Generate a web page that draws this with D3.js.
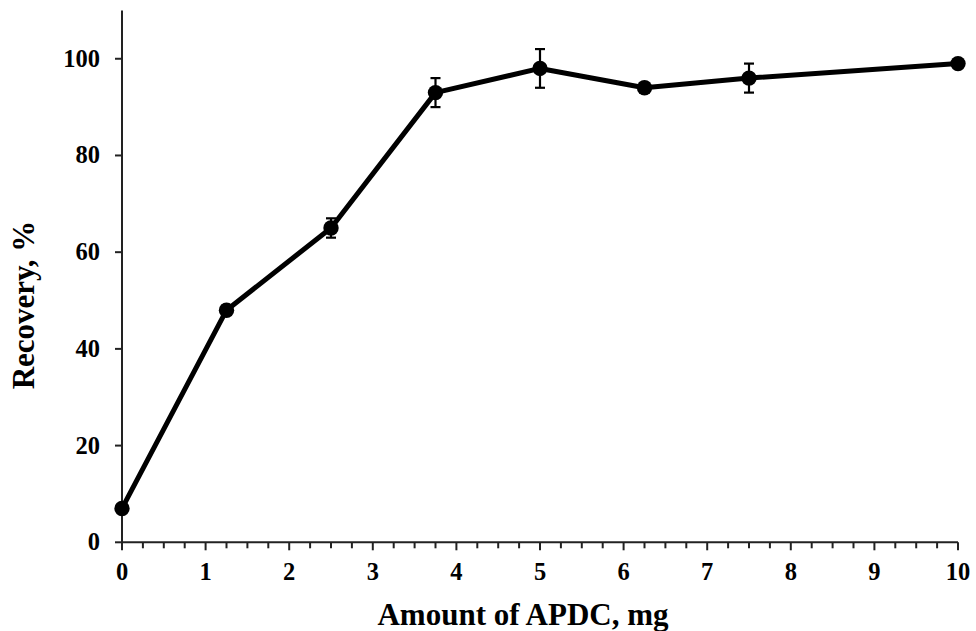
<!DOCTYPE html>
<html><head><meta charset="utf-8">
<script src="https://cdn.jsdelivr.net/npm/d3@7"></script>
<style>body{margin:0;background:#fff}svg{display:block}</style>
</head><body>
<svg id="c" width="976" height="631"></svg>
<script>
const amounts = [0, 1.25, 2.5, 3.75, 5, 6.25, 7.5, 10];
const recovery = [7, 48, 65, 93, 98, 94, 96, 99];
const errors = [0.5, 1, 2, 3, 4, 1, 3, 0.5];
const xTicks = [0,1,2,3,4,5,6,7,8,9,10];
const yTicks = [0,20,40,60,80,100];

const svg = d3.select("#c");
const x = d3.scaleLinear().domain([0,10]).range([122,958]);
const y = d3.scaleLinear().domain([0,110]).range([542.3,10.4]);
const font = "'Liberation Serif','Times New Roman',serif";

// x axis
const xg = svg.append("g").attr("transform","translate(0,542.3)");
xg.append("line").attr("x1",x(0)).attr("x2",x(10)).attr("stroke","#222").attr("stroke-width",2);
const minor = d3.range(0,10.001,0.25);
xg.selectAll("line.t").data(minor).join("line").attr("class","t")
  .attr("x1",d=>x(d)).attr("x2",d=>x(d)).attr("y1",0).attr("y2",d=>Math.abs(d-Math.round(d))<1e-6?8:6)
  .attr("stroke","#222").attr("stroke-width",2);
xg.selectAll("text").data(xTicks).join("text")
  .attr("x",d=>x(d)).attr("y",37.5).attr("text-anchor","middle")
  .attr("font-family",font).attr("font-weight","bold").attr("font-size",24.5).text(d=>d);

// y axis
const yg = svg.append("g").attr("transform","translate(122,0)");
yg.append("line").attr("y1",y(0)).attr("y2",y(110)).attr("stroke","#222").attr("stroke-width",2);
yg.selectAll("line.t").data(yTicks).join("line").attr("class","t")
  .attr("x1",-7).attr("x2",0).attr("y1",d=>y(d)).attr("y2",d=>y(d)).attr("stroke","#222").attr("stroke-width",2);
yg.selectAll("text").data(yTicks).join("text")
  .attr("x",-22).attr("y",d=>y(d)+8).attr("text-anchor","end")
  .attr("font-family",font).attr("font-weight","bold").attr("font-size",24.5).text(d=>d);

// titles
svg.append("text").attr("x",523).attr("y",625).attr("text-anchor","middle")
  .attr("font-family",font).attr("font-weight","bold").attr("font-size",31).text("Amount of APDC, mg");
svg.append("text").attr("transform","translate(34,305) rotate(-90)").attr("text-anchor","middle")
  .attr("font-family",font).attr("font-weight","bold").attr("font-size",31).text("Recovery, %");

const data = amounts.map((a,i)=>({a, r:recovery[i], e:errors[i]}));

// line
svg.append("path").datum(data)
  .attr("d", d3.line().x(d=>x(d.a)).y(d=>y(d.r)))
  .attr("fill","none").attr("stroke","#000").attr("stroke-width",5).attr("stroke-linejoin","round");

// error bars
const eb = svg.append("g").attr("stroke","#000").attr("stroke-width",2.2);
data.forEach(d=>{
  eb.append("line").attr("x1",x(d.a)).attr("x2",x(d.a)).attr("y1",y(d.r-d.e)).attr("y2",y(d.r+d.e));
  [d.r-d.e,d.r+d.e].forEach(v=>eb.append("line").attr("x1",x(d.a)-5).attr("x2",x(d.a)+5).attr("y1",y(v)).attr("y2",y(v)));
});

// markers
svg.append("g").selectAll("circle").data(data).join("circle")
  .attr("cx",d=>x(d.a)).attr("cy",d=>y(d.r)).attr("r",7.7).attr("fill","#000");
</script>
</body></html>
